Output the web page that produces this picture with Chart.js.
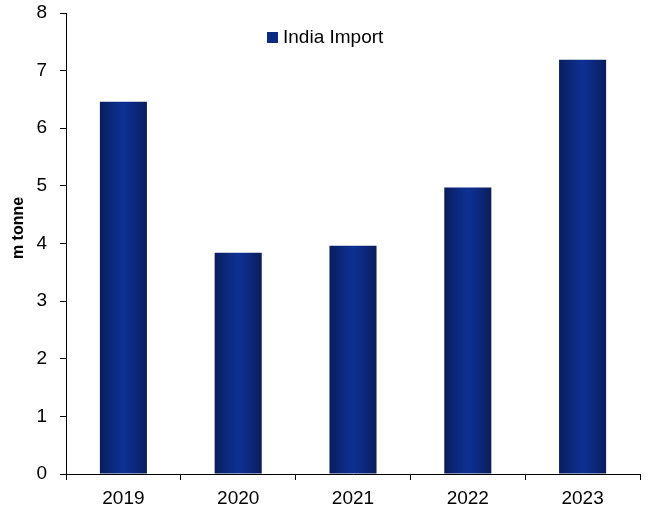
<!DOCTYPE html>
<html>
<head>
<meta charset="utf-8">
<script src="https://cdn.jsdelivr.net/npm/chart.js@4"></script>
<style>
  body { margin: 0; background: #fff; }
  #wrap { width: 652px; height: 508px; }
</style>
</head>
<body>
<div id="wrap"><canvas id="importChart"></canvas></div>
<script>
// Chart data
const years = ["2019", "2020", "2021", "2022", "2023"];
const indiaImport = [6.46, 3.84, 3.96, 4.97, 7.19];
const yTicks = [0, 1, 2, 3, 4, 5, 6, 7, 8];
const seriesLabel = "India Import";
const yTitle = "m tonne";

const fontFamily = "'Liberation Sans', Arial, sans-serif";

// Horizontal gradient for each bar: dark edges, lighter middle
function barGradient(context) {
  const chart = context.chart;
  const area = chart.chartArea;
  if (!area) return "#0c2a80";
  const x = chart.scales.x;
  const i = context.dataIndex;
  const w = (x.width / years.length) * 0.41;
  const cx = x.getPixelForValue(i);
  const g = chart.ctx.createLinearGradient(cx - w / 2, 0, cx + w / 2, 0);
  g.addColorStop(0, "#0a1d5a");
  g.addColorStop(0.3, "#0c2a82");
  g.addColorStop(0.5, "#0e3092");
  g.addColorStop(0.7, "#0c2a82");
  g.addColorStop(1, "#0a1d5a");
  return g;
}

// Legend and axis title drawn by hand
const extras = {
  id: "extras",
  afterDraw(chart) {
    const ctx = chart.ctx;
    ctx.save();
    ctx.fillStyle = "#0c2a80";
    ctx.fillRect(267, 32, 11, 11);
    ctx.fillStyle = "#000";
    ctx.font = "19px " + fontFamily;
    ctx.textBaseline = "middle";
    ctx.fillText(seriesLabel, 283, 38);

    ctx.translate(19, 228);
    ctx.rotate(-Math.PI / 2);
    ctx.textAlign = "center";
    ctx.font = "bold 16px " + fontFamily;
    ctx.fillText(yTitle, 0, 0);
    ctx.restore();
  },
};

const ctx = document.getElementById("importChart").getContext("2d");
new Chart(ctx, {
  type: "bar",
  data: {
    labels: years,
    datasets: [
      {
        label: seriesLabel,
        data: indiaImport,
        backgroundColor: barGradient,
        barPercentage: 0.41,
        categoryPercentage: 1,
      },
    ],
  },
  options: {
    responsive: true,
    maintainAspectRatio: false,
    animation: false,
    layout: { padding: { left: 0, right: 12, top: 13, bottom: 0 } },
    plugins: {
      legend: { display: false },
      tooltip: { enabled: false },
    },
    scales: {
      x: {
        grid: {
          display: true,
          drawOnChartArea: false,
          color: "#000",
          tickLength: 6,
          offset: true,
        },
        border: { color: "#000", width: 1 },
        ticks: {
          color: "#000",
          padding: 7,
          font: { family: fontFamily, size: 19 },
        },
        afterFit(scale) {
          scale.height = 34;
        },
      },
      y: {
        min: 0,
        max: 8,
        afterBuildTicks(scale) {
          scale.ticks = yTicks.map((v) => ({ value: v }));
        },
        grid: {
          display: true,
          drawOnChartArea: false,
          color: "#000",
          tickLength: 6,
        },
        border: { color: "#000", width: 1 },
        ticks: {
          color: "#000",
          padding: 13,
          font: { family: fontFamily, size: 19 },
        },
        afterFit(scale) {
          scale.width = 66;
          scale.paddingTop = 0;
          scale.paddingBottom = 0;
        },
      },
    },
  },
  plugins: [extras],
});
</script>
</body>
</html>
